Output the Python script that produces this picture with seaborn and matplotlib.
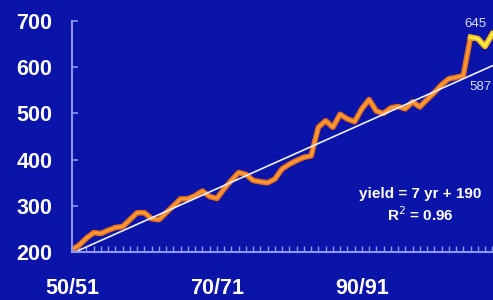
import numpy as np
import pandas as pd
import matplotlib
matplotlib.use("Agg")
import matplotlib.pyplot as plt
from matplotlib.ticker import MultipleLocator
import seaborn as sns

# crop years 1950/51 .. 2008/09
years = list(range(1950, 2009))
yields = [205, 215, 230, 242, 240, 247, 253, 255, 270, 285,
          285, 272, 270, 285, 300, 315, 315, 322, 332, 320,
          316, 337, 355, 372, 368, 355, 352, 350, 358, 380,
          390, 398, 405, 408, 470, 484, 470, 498, 488, 482,
          510, 530, 505, 500, 512, 515, 510, 525, 514, 530,
          545, 562, 575, 578, 582, 665, 662, 645, 672]
recent_from = 2005  # highlighted last years
slope, intercept = 7, 190
tick_years = [1950, 1970, 1990]
tick_labels = ["50/51", "70/71", "90/91"]
yticks = [200, 300, 400, 500, 600, 700]

df = pd.DataFrame({"year": years, "yield": yields})
df["trend"] = slope * (df["year"] - years[0] + 1) + intercept
recent = df[df["year"] >= recent_from]

bg = "#0a14a8"
axis_col = "#8c96f0"
plt.rcParams["font.family"] = ["Liberation Sans", "DejaVu Sans"]

fig = plt.figure(figsize=(4.93, 3.0), dpi=100, facecolor=bg)
ax = fig.add_axes([0.146, 0.16, 0.854, 0.77])
ax.set_facecolor(bg)

sns.lineplot(data=df, x="year", y="yield", ax=ax, color="#e8701a", lw=4.0)
sns.lineplot(data=df, x="year", y="yield", ax=ax, color="#ff9c3a", lw=1.7)
sns.lineplot(data=recent, x="year", y="yield", ax=ax, color="#f2b81c", lw=4.0)
sns.lineplot(data=recent, x="year", y="yield", ax=ax, color="#fff04a", lw=1.7)
sns.lineplot(data=df, x="year", y="trend", ax=ax, color="#eef0ff", lw=1.2)

ax.set_xlim(1950, 2008.1)
ax.set_ylim(200, 700)
ax.set_xticks(tick_years)
ax.set_xticklabels(tick_labels)
ax.xaxis.set_minor_locator(MultipleLocator(1))
ax.set_yticks(yticks)
ax.set_xlabel("")
ax.set_ylabel("")

for s in ["top", "right"]:
    ax.spines[s].set_visible(False)
for s in ["left", "bottom"]:
    ax.spines[s].set_color(axis_col)
    ax.spines[s].set_linewidth(1.5)

ax.tick_params(axis="y", direction="in", length=4, width=1.2, color=axis_col,
               pad=14, labelsize=15.5, labelcolor="white")
ax.tick_params(axis="x", which="both", direction="in", length=4, width=1.0,
               color=axis_col, pad=19, labelsize=15.5, labelcolor="white")
for lab in ax.get_xticklabels() + ax.get_yticklabels():
    lab.set_fontweight("bold")

ax.text(2005.7, 694, "645", color="#d8dcff", fontsize=9.5, ha="center", va="center")
ax.text(2006.4, 557, "587", color="#d8dcff", fontsize=9.5, ha="center", va="center")
ax.text(1998.1, 325, "yield = 7 yr + 190", color="white", fontsize=11,
        fontweight="bold", ha="center", va="center")
ax.text(1998.1, 281, "R$^2$ = 0.96", color="white", fontsize=11,
        fontweight="bold", ha="center", va="center")

fig.savefig("out.png", dpi=100, facecolor=bg)
